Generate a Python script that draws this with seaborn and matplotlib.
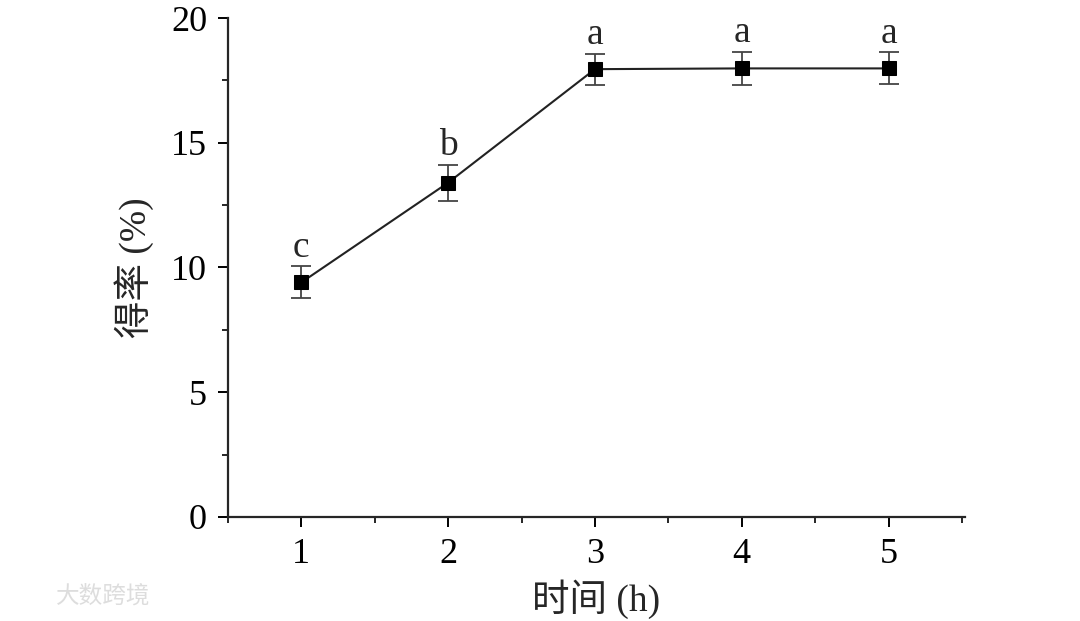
import numpy as np
import pandas as pd
import matplotlib
matplotlib.use('Agg')
import matplotlib.pyplot as plt
import seaborn as sns
from matplotlib.ticker import MultipleLocator

# data
time_h = [1, 2, 3, 4, 5]
yield_pct = [9.4, 13.4, 17.95, 17.98, 17.98]
yield_err = [0.64, 0.72, 0.62, 0.67, 0.64]
sig_letters = ['c', 'b', 'a', 'a', 'a']

df = pd.DataFrame({'time': time_h, 'yield': yield_pct, 'err': yield_err})

sns.set_style('ticks')
plt.rcParams['font.family'] = ['Liberation Serif', 'Noto Sans CJK SC']
plt.rcParams['axes.linewidth'] = 1.6

fig = plt.figure(figsize=(10.8, 6.21), dpi=100)
ax = fig.add_axes([0.211, 0.1675, 0.6825, 0.8035])

ax.errorbar(df['time'], df['yield'], yerr=df['err'], fmt='none',
            ecolor='#444444', elinewidth=1.3, capsize=7, capthick=1.3, zorder=2)
sns.lineplot(data=df, x='time', y='yield', ax=ax, color='#222222',
             linewidth=1.5, marker='s', markersize=10, markeredgecolor='black',
             markerfacecolor='black', zorder=3)

for x, y, e, s in zip(time_h, yield_pct, yield_err, sig_letters):
    ax.text(x, y + e + 0.05, s, ha='center', va='bottom', fontsize=27)

ax.set_xlim(0.5, 5.52)
ax.set_ylim(0, 20)
ax.xaxis.set_major_locator(MultipleLocator(1))
ax.xaxis.set_minor_locator(MultipleLocator(0.5))
ax.yaxis.set_major_locator(MultipleLocator(5))
ax.yaxis.set_minor_locator(MultipleLocator(2.5))
ax.tick_params(which='major', length=7, width=1.4, labelsize=26, colors='black', pad=8)
ax.tick_params(which='minor', length=4, width=1.4)

ax.set_xlabel('时间 (h)', fontsize=27, labelpad=6)
ax.set_ylabel('得率 (%)', fontsize=27, labelpad=12)
sns.despine(ax=ax)

fig.text(0.052, 0.03, '大数跨境', fontsize=17, color='#dddddd',
         family=['Noto Sans CJK SC'])

fig.savefig('out.png', dpi=100)
